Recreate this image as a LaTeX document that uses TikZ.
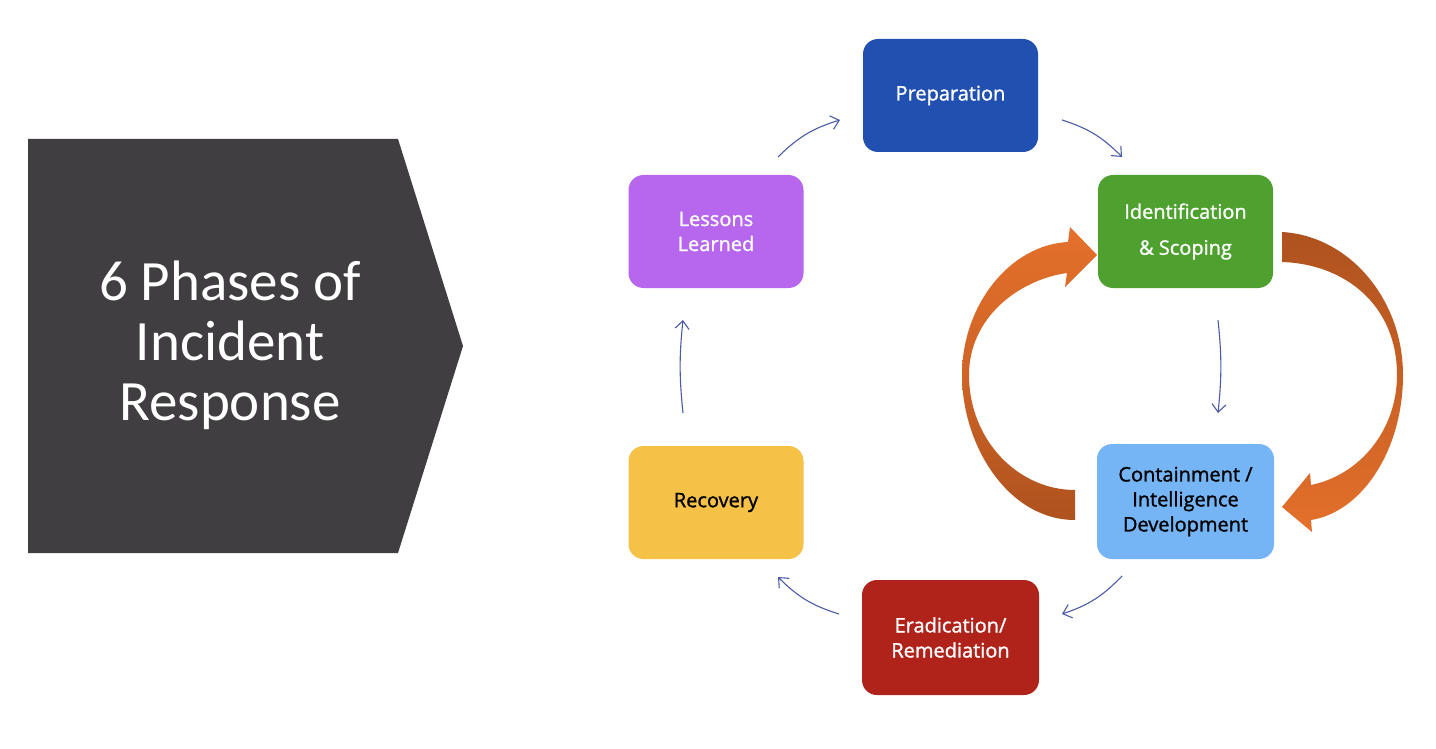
\documentclass[tikz,border=0pt]{standalone}
\usepackage{fontspec}
\setmainfont{Open Sans}[FakeBold=1.0]
\newfontfamily\boxfont[FakeBold=1.2]{Open Sans}
\newfontfamily\titlefont{Carlito}
\usetikzlibrary{arrows.meta,calc}
\definecolor{titlegray}{HTML}{403E40}
\definecolor{prepblue}{HTML}{2150B1}
\definecolor{identgreen}{HTML}{4EA12F}
\definecolor{contblue}{HTML}{75B5F5}
\definecolor{eradred}{HTML}{B0231B}
\definecolor{recovyellow}{HTML}{F5C146}
\definecolor{lesspurple}{HTML}{B766EE}
\definecolor{thinarrow}{HTML}{4B5BA6}
\definecolor{orangelight}{HTML}{E4702B}
\definecolor{orangedark}{HTML}{AE521F}
\tikzset{
  phase/.style={rounded corners=7.5pt, minimum width=87.5pt, minimum height=56.5pt,
    align=center, inner sep=0pt, font=\boxfont\fontsize{10}{12.5}\selectfont},
  cyclearrow/.style={draw=thinarrow, line width=0.55pt, -{Straight Barb[length=4pt,width=7pt]}, bend left=14}
}
\begin{document}
\begin{tikzpicture}[x=0.5pt,y=-0.5pt]
\useasboundingbox[fill=white] (0,0) rectangle (1436,749);

% title pentagon
\fill[titlegray] (28,139) -- (398,139) -- (463,346) -- (398,553) -- (28,553) -- cycle;
\node[text=white, align=center, font=\titlefont\fontsize{28.5}{30}\selectfont] (title) at (230,345)
  {6 Phases of\\Incident\\Response};

% orange cycle arrows
\shade[top color=orangelight, bottom color=orangedark, middle color=orangelight!60!orangedark]
  (1075,520) .. controls (1008,520) and (962,445) .. (962,375)
  .. controls (962,305) and (1010,245) .. (1068,242)
  -- (1070,227) -- (1097,255) -- (1065,287) -- (1067,273)
  .. controls (1018,280) and (969,318) .. (969,375)
  .. controls (969,440) and (1018,490) .. (1075,490) -- cycle;
\shade[top color=orangedark, bottom color=orangelight]
  (1282,232) .. controls (1350,236) and (1403,300) .. (1403,375)
  .. controls (1403,450) and (1362,512) .. (1311,520)
  -- (1312,532) -- (1282,507) -- (1310,473) -- (1311,485)
  .. controls (1360,475) and (1397,430) .. (1397,375)
  .. controls (1397,305) and (1345,264) .. (1282,262) -- cycle;

% phase boxes
\node[phase, fill=prepblue, text=white] (prep) at (950.5,95.5) {\raisebox{-1pt}{Preparation}};
\node[phase, fill=identgreen, text=white] (ident) at (1185.5,231.5) {Identification\\[5.5pt]\&~Scoping};
\node[phase, fill=contblue, text=black, minimum width=88.5pt, minimum height=57.5pt] (cont) at (1185.5,501.5)
  {Containment /\\Intelligence\\Development};
\node[phase, fill=eradred, text=white, minimum width=88.5pt, minimum height=57.5pt] (erad) at (950.5,637.5)
  {Eradication/\\Remediation};
\node[phase, fill=recovyellow, text=black] (recov) at (716,502.5) {Recovery};
\node[phase, fill=lesspurple, text=white] (lessons) at (716,231.5) {Lessons\\Learned};

% thin cycle connectors (free ends)
\coordinate (lp1) at (778,157);  \coordinate (lp2) at (840,120);
\coordinate (pi1) at (1062,120); \coordinate (pi2) at (1122,157);
\coordinate (ic1) at (1218,320); \coordinate (ic2) at (1218,413);
\coordinate (ce1) at (1122,576); \coordinate (ce2) at (1062,614);
\coordinate (er1) at (839,614);  \coordinate (er2) at (778,577);
\coordinate (rl1) at (683,413);  \coordinate (rl2) at (683,320);
\draw[cyclearrow] (lp1) to (lp2);
\draw[cyclearrow] (pi1) to (pi2);
\draw[cyclearrow, bend left=6] (ic1) to (ic2);
\draw[cyclearrow] (ce1) to (ce2);
\draw[cyclearrow] (er1) to (er2);
\draw[cyclearrow, bend left=6] (rl1) to (rl2);
\end{tikzpicture}
\end{document}
